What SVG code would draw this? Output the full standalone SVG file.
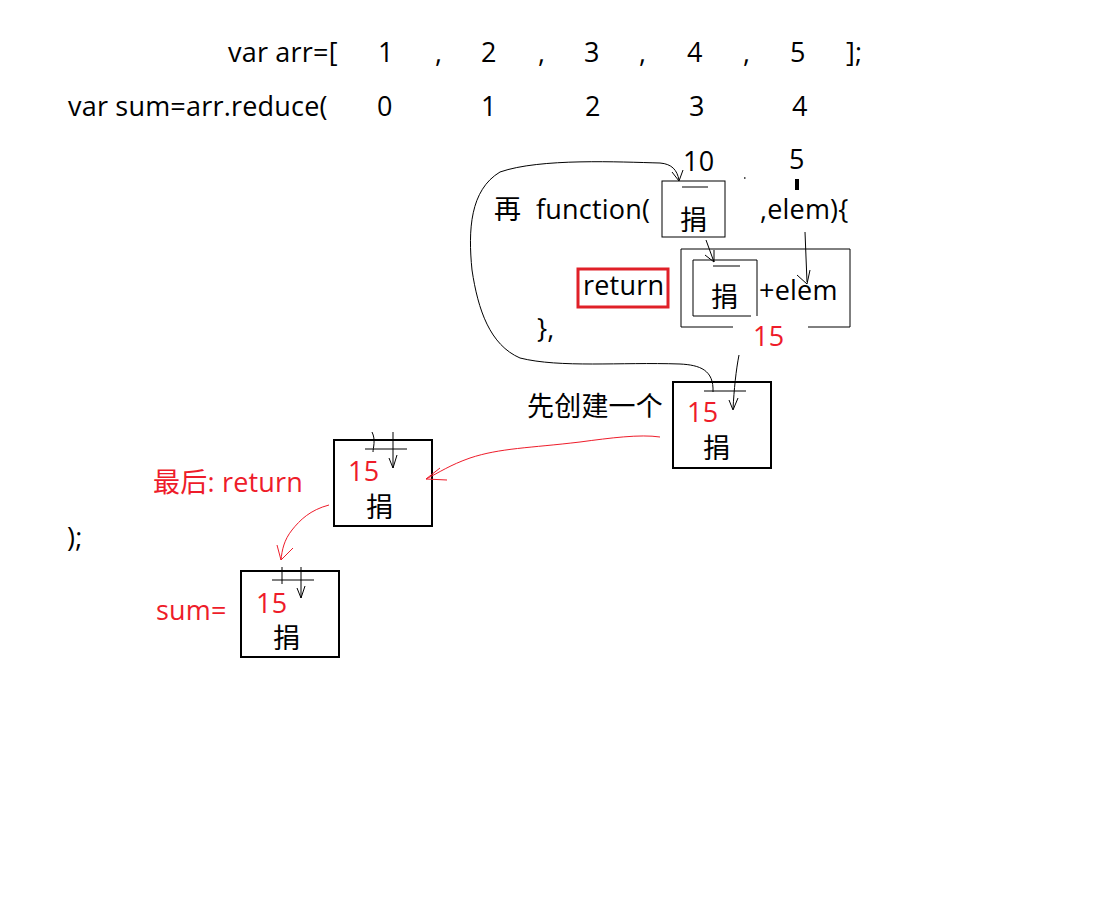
<svg xmlns="http://www.w3.org/2000/svg" width="1110" height="898" viewBox="0 0 1110 898">
<defs>
<style>
text{font-family:"Open Sans","Noto Sans CJK SC",sans-serif;font-size:27px;letter-spacing:0.2px;fill:#000}
.r{fill:#ee1c2a}
.box{fill:none;stroke:#000;stroke-width:2}
.thin{fill:none;stroke:#000;stroke-width:1}
.rl{fill:none;stroke:#ee1c2a;stroke-width:1}
</style>
</defs>
<rect width="1110" height="898" fill="#fff"/>
<g id="code">
<text x="228" y="62">var arr=[</text>
<text x="378" y="62">1</text><text x="435" y="62">,</text>
<text x="481" y="62">2</text><text x="538" y="62">,</text>
<text x="584" y="62">3</text><text x="639" y="62">,</text>
<text x="687" y="62">4</text><text x="743" y="62">,</text>
<text x="790" y="62">5</text><text x="846" y="62">];</text>
<text x="68" y="116">var sum=arr.reduce(</text>
<text x="377" y="116">0</text><text x="481" y="116">1</text><text x="585" y="116">2</text><text x="689" y="116">3</text><text x="792" y="116">4</text>
<text x="683" y="171">10</text>
<text x="789" y="169">5</text>
<rect x="795" y="179" width="4" height="11" fill="#000"/>
<rect x="744" y="177" width="1.5" height="2" fill="#555"/>
<text x="494" y="219">再</text>
<text x="536" y="219">function(</text>
<text x="760" y="219">,elem){</text>
<text x="537" y="338">},</text>
<text x="67" y="547">);</text>
</g>
<g id="param-box">
<rect x="662" y="181" width="63" height="56" class="thin"/>
<line x1="682" y1="187" x2="708" y2="187" class="thin"/>
<text x="680" y="230">捐</text>
</g>
<g id="return-box">
<rect x="578" y="269" width="90" height="38" fill="none" stroke="#e02028" stroke-width="3"/>
<text x="583" y="295">return</text>
</g>
<g id="expr-box">
<path d="M733,327 H681 V249 H850 V327 H808" class="thin"/>
<path d="M757,316 V260 H693 V316 H751" class="thin"/>
<line x1="713" y1="266" x2="740" y2="266" class="thin"/>
<text x="711" y="307">捐</text>
<text x="759" y="300">+elem</text>
<text x="753" y="346" class="r">15</text>
</g>
<g id="new-box">
<rect x="673" y="382" width="98" height="86" class="box"/>
<line x1="704" y1="391" x2="746" y2="391" class="thin"/>
<text x="687" y="422" class="r">15</text>
<text x="703" y="458">捐</text>
<text x="527" y="416">先创建一个</text>
</g>
<g id="ret-box">
<rect x="334" y="440" width="98" height="86" class="box"/>
<line x1="365" y1="449" x2="407" y2="449" class="thin"/>
<text x="348" y="481" class="r">15</text>
<text x="366" y="517">捐</text>
<text x="153" y="492" class="r">最后: return</text>
</g>
<g id="sum-box">
<rect x="241" y="571" width="98" height="86" class="box"/>
<line x1="272" y1="580" x2="314" y2="580" class="thin"/>
<text x="256" y="613" class="r">15</text>
<text x="273" y="648">捐</text>
<text x="156" y="620" class="r">sum=</text>
</g>
<g id="connectors">
<path d="M713,392 C714,370 700,365 680,364 C620,362 560,368 520,358 C490,345 478,310 472,270 C468,230 470,190 500,172 C540,158 620,162 660,163 C672,164 677,170 679,180" class="thin"/>
<path d="M672,172 L679,181 L683,170" class="thin"/>
<path d="M706,240 L714,262" class="thin"/>
<path d="M705,255 L714,262 L714,250" class="thin"/>
<path d="M805,232 L807,282" class="thin"/>
<path d="M797,275 L807,284 L810,270" class="thin"/>
<path d="M739,355 C736,370 734,390 733,409" class="thin"/>
<path d="M729,400 L733,410 L738,398" class="thin"/>
<path d="M372,432 C376,440 373,448 373,452" class="thin"/>
<path d="M393,432 V468 M389,458 L393,468 L397,455" class="thin"/>
<path d="M282,567 V584" class="thin"/>
<path d="M301,567 V598 M297,588 L301,598 L305,586" class="thin"/>
<path d="M660,437 C640,434 610,438 580,442 C530,448 500,448 470,458 C450,465 440,472 426,479" class="rl"/>
<path d="M440,468 L426,479 L447,480" class="rl"/>
<path d="M329,505 C310,510 300,520 292,530 C284,540 282,550 281,560" class="rl"/>
<path d="M277,545 L281,560 L293,548" class="rl"/>
</g>
</svg>
